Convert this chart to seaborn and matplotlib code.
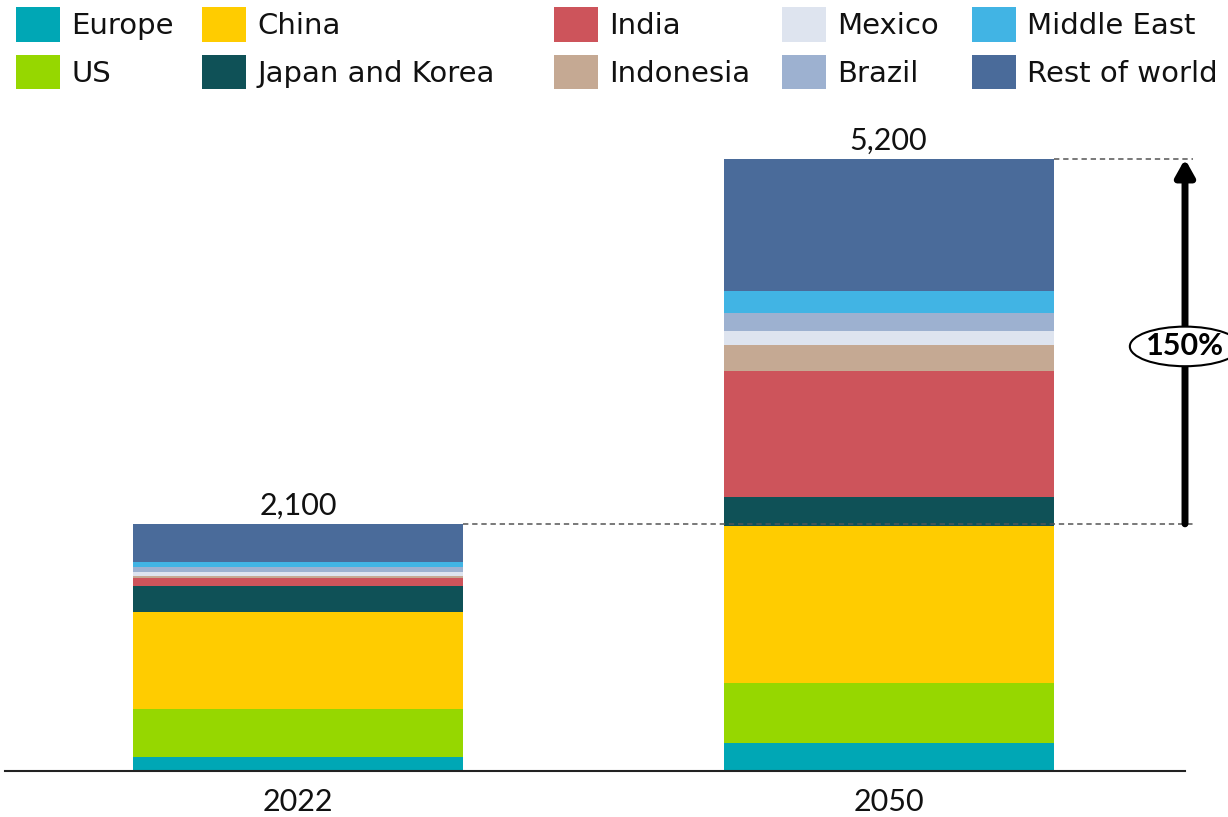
import numpy as np
import matplotlib
matplotlib.use("Agg")
import matplotlib.pyplot as plt
from matplotlib.patches import Patch
import seaborn as sns

# Demand by region, stacked bottom to top
years = ["2022", "2050"]
regions = ["Europe", "US", "China", "Japan and Korea", "India",
           "Indonesia", "Mexico", "Brazil", "Middle East", "Rest of world"]
europe = [120, 240]
us = [410, 510]
china = [820, 1330]
japan_korea = [220, 250]
india = [70, 1070]
indonesia = [20, 220]
mexico = [35, 120]
brazil = [35, 150]
middle_east = [50, 190]
rest_of_world = [320, 1120]
growth_label = "150%"

series = [europe, us, china, japan_korea, india,
          indonesia, mexico, brazil, middle_east, rest_of_world]
colors = ["#00A7B5", "#96D700", "#FFCC00", "#0F5157", "#CD545B",
          "#C5A993", "#DEE4EF", "#9DB1D0", "#41B4E4", "#4A6B9A"]

sns.set_style("white")
plt.rcParams["font.family"] = ["Lato", "DejaVu Sans"]
plt.rcParams["text.color"] = "#111111"

W, H = 1228, 817
fig = plt.figure(figsize=(W / 100, H / 100), dpi=100)

# axes layout in pixels
base_px, top_px = 771, 100
ymax_val = 5200 * (base_px - top_px) / (base_px - 159)
ax = fig.add_axes([0, (H - base_px) / H, 1, (base_px - top_px) / H])

px_per_cat = 590.5
c0 = 298
bar_w = 330 / px_per_cat

bottom = np.zeros(len(years))
for vals, col in zip(series, colors):
    sns.barplot(x=years, y=vals, bottom=bottom, color=col, width=bar_w,
                linewidth=0, edgecolor="none", errorbar=None,
                saturation=1, ax=ax)
    bottom = bottom + np.array(vals)
totals = bottom

ax.set_xlim(-c0 / px_per_cat, (W - c0) / px_per_cat)
ax.set_ylim(0, ymax_val)
ax.set_yticks([])
ax.set_ylabel("")
for s in ["top", "left", "right"]:
    ax.spines[s].set_visible(False)
ax.spines["bottom"].set_color("#222222")
ax.spines["bottom"].set_linewidth(1.5)
ax.spines["bottom"].set_bounds((5 - c0) / px_per_cat, (1185 - c0) / px_per_cat)
ax.tick_params(axis="x", length=0, pad=12, labelsize=22, labelcolor="#111111")

# totals above bars
for i, t in enumerate(totals):
    ax.annotate(f"{t:,.0f}", xy=(i, t), xytext=(0, 3), textcoords="offset points",
                ha="center", va="bottom", fontsize=22, color="#111111")

# dashed reference lines and growth arrow
x_end = (1193 - c0) / px_per_cat
x_arrow = (1185 - c0) / px_per_cat
for i, t in enumerate(totals):
    ax.plot([i + bar_w / 2, x_end], [t, t], color="#555555", lw=1.1,
            ls=(0, (3.5, 2.5)), clip_on=False)
ax.annotate("", xy=(x_arrow, totals[1]), xytext=(x_arrow, totals[0]),
            arrowprops=dict(arrowstyle="-|>,head_length=0.5,head_width=0.28",
                            lw=5, color="black", shrinkA=0, shrinkB=0,
                            mutation_scale=20))
mid_y = (totals[0] + totals[1]) / 2 - 5 * ymax_val / (base_px - top_px)
ax.text(x_arrow, mid_y, growth_label,
        ha="center", va="center", fontsize=22, fontweight="bold", color="black",
        bbox=dict(boxstyle="ellipse,pad=0.0", fc="white", ec="black", lw=1.5))

# legend, one column of two entries per block
col_x = [16, 202, 554, 782, 972]
handles = [Patch(facecolor=c, edgecolor="none", label=r) for r, c in zip(regions, colors)]
for k, x in enumerate(col_x):
    fig.legend(handles=handles[2 * k:2 * k + 2], loc="upper left",
               bbox_to_anchor=(x / W, 1 - 7 / H), ncol=1, frameon=False,
               borderpad=0, borderaxespad=0,
               handlelength=1.5, handleheight=1.45, handletextpad=0.4,
               labelspacing=0.45, labelcolor="#111111",
               prop={"family": "DejaVu Sans", "size": 21})

fig.savefig("out.png", dpi=100)
